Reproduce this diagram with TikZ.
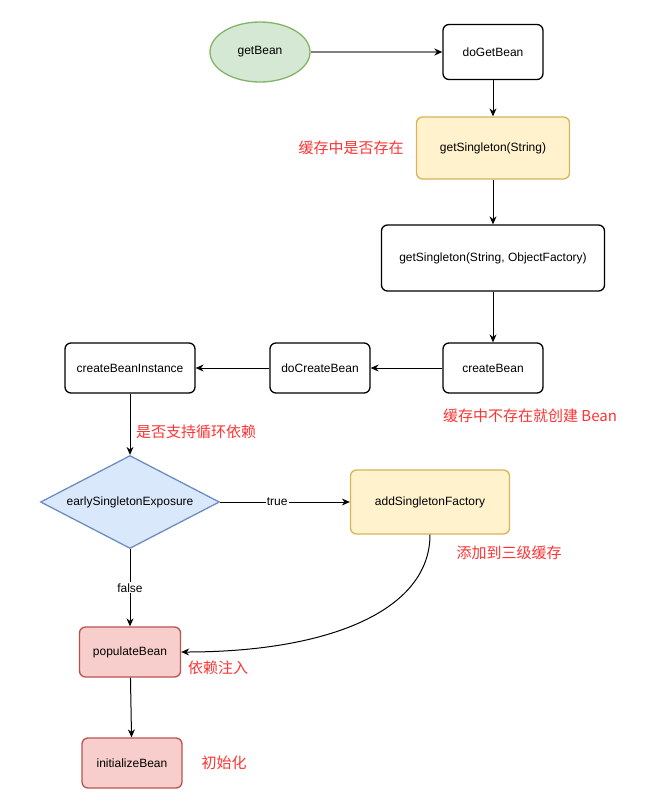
\documentclass[tikz,border=0pt]{standalone}
\usepackage{fontspec}
\setmainfont{Liberation Sans}
\newfontfamily\cjk{Noto Sans CJK SC}
\usetikzlibrary{arrows.meta,shapes.geometric}

\definecolor{greenfill}{HTML}{D5E8D4}
\definecolor{greenline}{HTML}{82B366}
\definecolor{yellowfill}{HTML}{FFF2CC}
\definecolor{yellowline}{HTML}{D6B656}
\definecolor{bluefill}{HTML}{DAE8FC}
\definecolor{blueline}{HTML}{6C8EBF}
\definecolor{redfill}{HTML}{F8CECC}
\definecolor{redline}{HTML}{B85450}
\definecolor{notered}{HTML}{FF3333}

\begin{document}
\begin{tikzpicture}[x=1pt,y=-1pt,>={Stealth[length=8pt,width=7pt]},
  every node/.style={font=\fontsize{12}{14}\selectfont},
  box/.style={draw,line width=1.3pt,rounded corners=6pt,align=center,inner sep=0pt},
  note/.style={text=notered,font=\cjk\fontsize{15}{18}\selectfont},
  tag/.style={fill=white,inner sep=1pt,font=\fontsize{12}{14}\selectfont},
  link/.style={->,line width=1pt}]
\useasboundingbox (0,0) rectangle (666,812);
\node[ellipse,draw=greenline,fill=greenfill,line width=1.3pt,minimum width=100pt,minimum height=60pt] (getbean) at (260,52) {getBean};
\node[box,minimum width=100pt,minimum height=55pt] (dogetbean) at (493,52) {doGetBean};
\node[box,draw=yellowline,fill=yellowfill,minimum width=153pt,minimum height=62pt] (getsingleton) at (493,148) {getSingleton(String)};
\node[box,minimum width=223pt,minimum height=66pt] (getsingletonof) at (493,258) {getSingleton(String, ObjectFactory)};
\node[box,minimum width=100pt,minimum height=50pt] (createbean) at (493,368) {createBean};
\node[box,minimum width=100pt,minimum height=50pt] (docreatebean) at (320,368) {doCreateBean};
\node[box,minimum width=130pt,minimum height=50pt] (instance) at (130,368) {createBeanInstance};
\node[diamond,aspect=1.92,draw=blueline,fill=bluefill,line width=1.3pt,inner sep=0pt,minimum width=179pt,minimum height=93pt] (exposure) at (130,502) {earlySingletonExposure};
\node[box,draw=yellowline,fill=yellowfill,minimum width=159pt,minimum height=64pt] (factory) at (430,502) {addSingletonFactory};
\node[box,draw=redline,fill=redfill,minimum width=101pt,minimum height=50pt] (populate) at (130,652) {populateBean};
\node[box,draw=redline,fill=redfill,minimum width=100pt,minimum height=50pt] (initialize) at (132,763) {initializeBean};

\node[note] (n1) at (351,148) {缓存中是否存在};
\node[note] (n2) at (530,416) {缓存中不存在就创建 Bean};
\node[note] (n3) at (196,432) {是否支持循环依赖};
\node[note] (n4) at (509,553) {添加到三级缓存};
\node[note] (n5) at (218,668) {依赖注入};
\node[note] (n6) at (224,763) {初始化};

\draw[link,draw=gray,line width=1.5pt,-{Stealth[length=8pt,width=7pt,black]}] (getbean) -- (dogetbean);
\draw[link] (dogetbean) -- (getsingleton);
\draw[link] (getsingleton) -- (getsingletonof);
\draw[link] (getsingletonof) -- (createbean);
\draw[link] (createbean) -- (docreatebean);
\draw[link] (docreatebean) -- (instance);
\draw[link] (instance) -- (exposure);
\draw[link] (exposure) -- node[tag,pos=0.44] {true} (factory);
\draw[link] (exposure) -- node[tag,pos=0.5] {false} (populate);
\draw[link] (factory.south) .. controls (430,610) and (330,652) .. (populate.east);
\draw[link] (populate) -- (initialize);
\end{tikzpicture}
\end{document}
